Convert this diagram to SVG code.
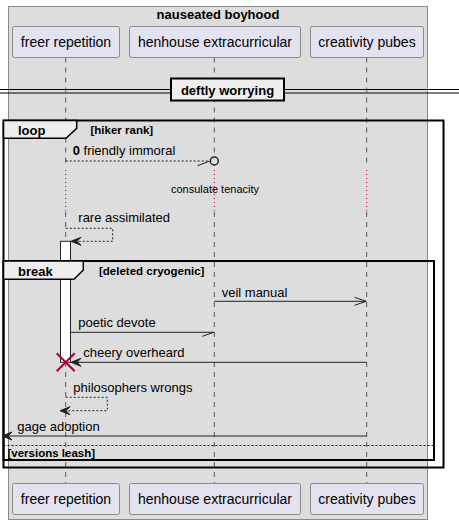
<svg xmlns="http://www.w3.org/2000/svg" width="459" height="524" viewBox="0 0 459 524">
<style>
text{font-family:"Liberation Sans",Arial,sans-serif;fill:#000}
.pt{font-size:14px}
.msg{font-size:13px}
.b{font-weight:bold}
.small{font-size:11px}
.guard{font-size:11.5px;font-weight:bold}
.pbox{fill:#E2E2F0;stroke:#8A8A8A;stroke-width:1}
.life{stroke:#555;stroke-width:1;stroke-dasharray:5,5;fill:none}
.delay{stroke:#A80036;stroke-width:1;stroke-dasharray:1,3;fill:none}
.frame{fill:none;stroke:#000;stroke-width:2}
.tab{fill:#EEEEEE;stroke:#000;stroke-width:1.5}
.ln{stroke:#222;stroke-width:1;fill:none}
.dash{stroke:#222;stroke-width:1;stroke-dasharray:2,2;fill:none}
.head{fill:#222;stroke:#222;stroke-width:1}
</style>
<rect x="8.5" y="6.5" width="419" height="513" fill="#DDDDDD" stroke="#8A8A8A" stroke-width="1"/>
<text x="218" y="19" class="b" font-size="13" text-anchor="middle">nauseated boyhood</text>
<g id="lifelines">
<path class="life" d="M65.7 57.5V167M65.7 212V483.5M214.3 57.5V157M214.3 212V483.5M366.7 57.5V167M366.7 212V483.5"/>
<path class="delay" d="M65.7 170V211M214.3 170V211M366.7 170V211"/>
</g>
<g id="p-freer">
<rect class="pbox" x="12.5" y="26.5" width="107" height="31" rx="2"/>
<text class="pt" x="66" y="47" text-anchor="middle">freer repetition</text>
<rect class="pbox" x="12.5" y="483.5" width="107" height="31" rx="2"/>
<text class="pt" x="66" y="504" text-anchor="middle">freer repetition</text>
</g>
<g id="p-henhouse">
<rect class="pbox" x="129.5" y="26.5" width="171" height="31" rx="2"/>
<text class="pt" x="215" y="47" text-anchor="middle">henhouse extracurricular</text>
<rect class="pbox" x="129.5" y="483.5" width="171" height="31" rx="2"/>
<text class="pt" x="215" y="504" text-anchor="middle">henhouse extracurricular</text>
</g>
<g id="p-creativity">
<rect class="pbox" x="310.5" y="26.5" width="113" height="31" rx="2"/>
<text class="pt" x="367" y="47" text-anchor="middle">creativity pubes</text>
<rect class="pbox" x="310.5" y="483.5" width="113" height="31" rx="2"/>
<text class="pt" x="367" y="504" text-anchor="middle">creativity pubes</text>
</g>
<g id="divider">
<path d="M0 89.5H459M0 93H459" stroke="#000" stroke-width="1"/>
<rect x="171" y="78.5" width="113" height="22" fill="#EEEEEE" stroke="#000" stroke-width="2"/>
<text x="227.5" y="95" class="b" font-size="13" text-anchor="middle">deftly worrying</text>
</g>
<g id="activation">
<rect x="60.5" y="241.3" width="10" height="121" fill="#FFFFFF" stroke="#222" stroke-width="1"/>
</g>
<g id="loop-frame">
<rect class="frame" x="3.5" y="120.5" width="440" height="347"/>
<path class="tab" d="M3.5 120.5V138.3H66L76.7 128.3V120.5Z"/>
<text x="18" y="134.5" class="b" font-size="13">loop</text>
<text x="90.5" y="133.5" class="guard">[hiker rank]</text>
</g>
<g id="break-frame">
<rect class="frame" x="3.5" y="261" width="430.5" height="199"/>
<path class="tab" d="M3.5 261V279.3H74L83.3 270V261Z"/>
<text x="18" y="276" class="b" font-size="13">break</text>
<text x="99" y="274.5" class="guard">[deleted cryogenic]</text>
<path d="M3.5 445.5H434" stroke="#000" stroke-width="1" stroke-dasharray="2,2"/>
<text x="7.5" y="456.5" class="guard">[versions leash]</text>
</g>
<g id="connectors">
<path class="dash" d="M65.7 161H209.3"/>
<path class="ln" d="M197.5 165.7L209.3 161.2"/>
<circle cx="214.3" cy="161" r="4" fill="none" stroke="#222" stroke-width="1.5"/>
<text class="msg" x="72.7" y="155"><tspan class="b">0</tspan> friendly immoral</text>
<text class="small" x="215" y="193" text-anchor="middle">consulate tenacity</text>
<path class="dash" d="M65.7 228.3H112.7V241.3H72"/>
<path class="head" d="M71 241.3L81 237.3L77 241.3L81 245.3Z"/>
<text class="msg" x="78.3" y="222">rare assimilated</text>
<path class="ln" d="M214.3 301.3H366.2M354.5 297.3L366.2 301.3L354.5 305.3"/>
<text class="msg" x="221.7" y="296.7">veil manual</text>
<path class="ln" d="M70.5 332.3H213.8M202.3 336.3L213.8 332.3"/>
<text class="msg" x="78.3" y="326.7">poetic devote</text>
<path class="ln" d="M366.7 362.3H72"/>
<path class="head" d="M71 362.3L81 358.3L77 362.3L81 366.3Z"/>
<text class="msg" x="83.3" y="357.3">cheery overheard</text>
<path d="M56.7 353.3L74.7 371.3M74.7 353.3L56.7 371.3" stroke="#A80036" stroke-width="2"/>
<path class="dash" d="M65.7 397.3H107.3V410.7H61"/>
<path class="head" d="M60 410.7L70 406.7L66 410.7L70 414.7Z"/>
<text class="msg" x="73.3" y="391.7">philosophers wrongs</text>
<path class="ln" d="M366.7 436H3"/>
<path class="head" d="M2 436L12 432L8 436L12 440Z"/>
<text class="msg" x="17.3" y="430.5">gage adoption</text>
</g>
</svg>
